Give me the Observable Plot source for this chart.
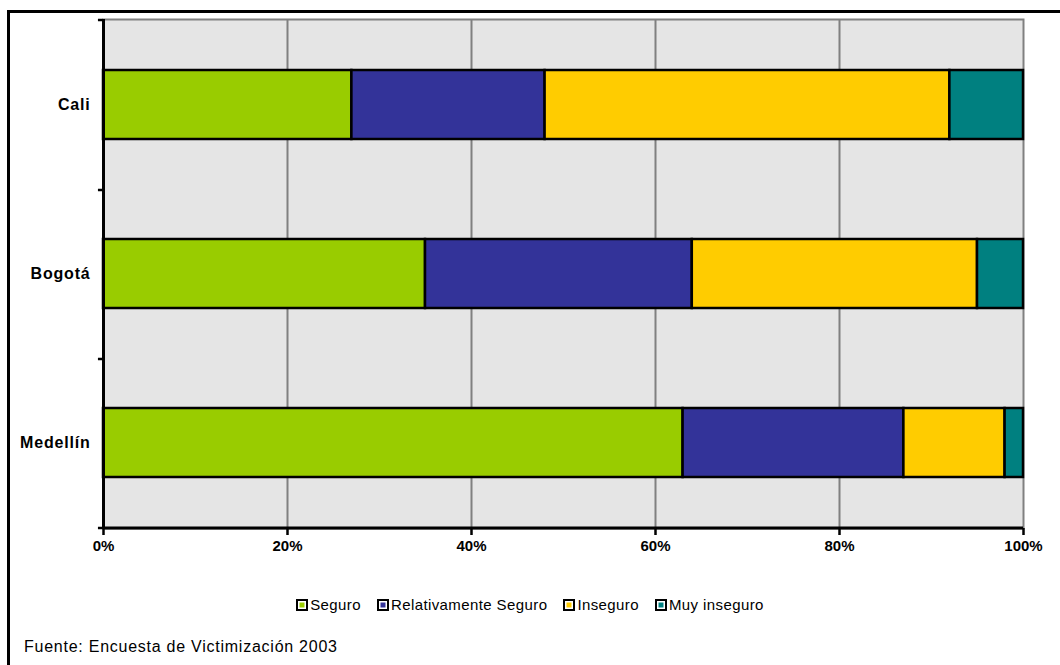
<!DOCTYPE html>
<html>
<head>
<meta charset="utf-8">
<script src="https://cdn.jsdelivr.net/npm/d3@7"></script>
<script src="https://cdn.jsdelivr.net/npm/@observablehq/plot@0.6"></script>
<style>
  html, body { margin: 0; padding: 0; background: #fff; width: 1060px; height: 665px; overflow: hidden; }
  body { position: relative; font-family: "Liberation Sans", Arial, sans-serif; }
  #frame { position: absolute; left: 7px; top: 10px; width: 1200px; height: 800px;
           border-top: 3px solid #000; border-left: 3px solid #000; box-sizing: border-box; }
  #chart { position: absolute; left: 0; top: 0; }
  #legend { position: absolute; left: 0; top: 594px; width: 1060px; text-align: center;
            font-size: 15px; letter-spacing: 0.4px; color: #000; white-space: nowrap; }
  #legend .item { display: inline-block; margin: 0 8px; vertical-align: middle; }
  #legend .sw { display: inline-block; width: 8px; height: 8px; border: 2px solid #000;
                box-shadow: inset 0 0 0 1.5px #fff; vertical-align: -1px; margin-right: 2px; }
  #caption { position: absolute; left: 24px; top: 638px; font-size: 16px; letter-spacing: 0.75px; color: #000; }
  #chart svg g[aria-label="y-axis tick label"] text { letter-spacing: 0.8px; }
</style>
</head>
<body>
<div id="frame"></div>
<div id="chart"></div>
<div id="legend"></div>
<div id="caption">Fuente: Encuesta de Victimización 2003</div>
<script>
// Data
const cities = ["Cali", "Bogotá", "Medellín"];
const categories = ["Seguro", "Relativamente Seguro", "Inseguro", "Muy inseguro"];
const colors = ["#99CC00", "#333399", "#FFCC00", "#008080"];
const seguro = [27, 35, 63];
const relativamente = [21, 29, 24];
const inseguro = [44, 31, 11];
const muyInseguro = [8, 5, 2];
const xTicks = [0, 0.2, 0.4, 0.6, 0.8, 1];

const seriesValues = [seguro, relativamente, inseguro, muyInseguro];
const data = [];
cities.forEach((c, i) => {
  categories.forEach((k, j) => {
    data.push({city: c, category: k, value: seriesValues[j][i] / 100});
  });
});

const chart = Plot.plot({
  width: 1060,
  height: 560,
  marginLeft: 103,
  marginRight: 37,
  marginTop: 19,
  marginBottom: 32,
  style: {fontFamily: "'Liberation Sans', Arial, sans-serif", fontSize: "15px", fontWeight: "bold", background: "transparent", color: "#000"},
  x: {domain: [0, 1]},
  y: {domain: cities, paddingInner: 0.59, paddingOuter: 0.295},
  color: {domain: categories, range: colors},
  marks: [
    Plot.frame({fill: "#E5E5E5", stroke: "#808080", strokeWidth: 2}),
    Plot.gridX(xTicks.slice(1, -1), {stroke: "#808080", strokeOpacity: 1, strokeWidth: 2}),
    Plot.rectX(data, Plot.stackX({x: "value", y: "city", fill: "category", order: categories, stroke: "#000", strokeWidth: 2.5})),
    Plot.ruleX([0], {stroke: "#000", strokeWidth: 3}),
    Plot.ruleY([cities[cities.length - 1]], {dy: 85, stroke: "#000", strokeWidth: 3}),
    Plot.ruleY([cities[0]], {x1: -0.0055, x2: 0, dy: -85, stroke: "#000", strokeWidth: 2.5, clip: false}),
    Plot.ruleY(cities, {x1: -0.0055, x2: 0, dy: 85, stroke: "#000", strokeWidth: 2.5, clip: false}),
    Plot.axisY({tickSize: 0, tickPadding: 13, fontSize: 16, label: null}),
    Plot.axisX({ticks: xTicks, tickSize: 7, tickPadding: 5, fontSize: 15, strokeWidth: 2.5, tickFormat: d => Math.round(d * 100) + "%", label: null})
  ]
});
document.getElementById("chart").appendChild(chart);

const legend = document.getElementById("legend");
categories.forEach((k, j) => {
  const item = document.createElement("span");
  item.className = "item";
  const sw = document.createElement("span");
  sw.className = "sw";
  sw.style.background = colors[j];
  item.appendChild(sw);
  item.appendChild(document.createTextNode(k));
  legend.appendChild(item);
});
</script>
</body>
</html>
